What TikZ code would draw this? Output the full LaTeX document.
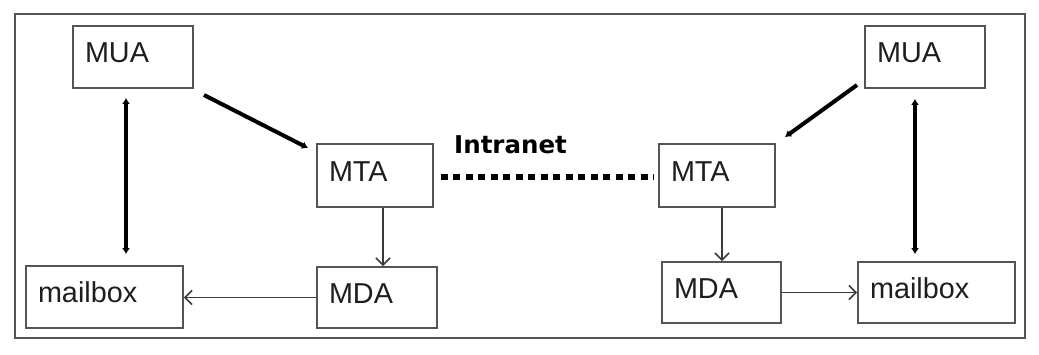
\documentclass[tikz,border=0pt]{standalone}
\usepackage{fontspec}
\setmainfont{Liberation Sans}
\newfontfamily\intrafont{DejaVu Sans}
\usetikzlibrary{arrows.meta,calc}
\definecolor{boxgray}{HTML}{555555}
\definecolor{txtgray}{HTML}{1E1E1E}
\definecolor{thingray}{HTML}{3A3A3A}
\begin{document}
\begin{tikzpicture}[x=1pt,y=-1pt,
  box/.style={draw=boxgray, line width=1.8pt, inner xsep=12pt, inner ysep=0pt,
    align=left, text height=20pt, text depth=9pt, text=txtgray,
    font=\fontsize{28.8}{32}\selectfont},
  thick arrow/.style={line width=4pt, -{Latex[length=6pt,width=8pt]}},
  dbl arrow/.style={line width=3.8pt, {Latex[length=6pt,width=8pt]}-{Latex[length=6pt,width=8pt]}},
  thin arrow/.style={draw=thingray, line width=1.6pt, -{Straight Barb[length=7pt,width=14pt,line width=1.6pt]}}
]
\useasboundingbox (0,0) rectangle (1039,354);
\draw[draw=boxgray, line width=2.2pt] (15,14) rectangle (1025,338);

\node[box, text width=96pt, minimum height=62pt] (MUAl) at (133,57) {MUA};
\node[box, text width=96pt, minimum height=62pt] (MUAr) at (925,57) {MUA};
\node[box, text width=92pt, minimum height=63pt] (MTAl) at (375,175.5) {MTA};
\node[box, text width=92pt, minimum height=63pt] (MTAr) at (717,175.5) {MTA};
\node[box, text width=96pt, minimum height=61pt] (MDAl) at (377,297.5) {MDA};
\node[box, text width=95pt, minimum height=61pt] (MDAr) at (721.5,292.5) {MDA};
\node[box, text width=133pt, minimum height=62pt] (MBl) at (104.5,297) {mailbox};
\node[box, text width=133pt, minimum height=61pt] (MBr) at (936.5,292.5) {mailbox};

\node[anchor=base west, inner sep=0pt, font=\intrafont\bfseries\fontsize{24.5}{28}\selectfont] (intranet) at (454,153) {Intranet};

\coordinate (xl) at (383,0);
\coordinate (xr) at (722,0);
\coordinate (xdl) at (126,0);
\coordinate (xdr) at (915,0);
\coordinate (dl1) at (204,95);
\coordinate (dl2) at (308,148);
\coordinate (dr1) at (857,85);
\coordinate (dr2) at (785,137);

\draw[thick arrow] (dl1) -- (dl2);
\draw[thick arrow] (dr1) -- (dr2);
\draw[dbl arrow, shorten <=9pt, shorten >=11pt] (MUAl.south -| xdl) -- (MBl.north -| xdl);
\draw[dbl arrow, shorten <=10pt, shorten >=7pt] (MUAr.south -| xdr) -- (MBr.north -| xdr);

\draw[thin arrow] (MTAl.south -| xl) -- (MDAl.north -| xl);
\draw[thin arrow] (MTAr.south -| xr) -- (MDAr.north -| xr);
\draw[thin arrow] (MDAl.west) -- (MBl.east |- MDAl.west);
\draw[thin arrow] (MDAr.east) -- (MBr.west);

\draw[line width=6.5pt, dash pattern=on 6.8pt off 5.7pt, shorten <=7pt, shorten >=4pt]
  (MTAl.east |- 0,177) -- (MTAr.west |- 0,177);
\end{tikzpicture}
\end{document}
